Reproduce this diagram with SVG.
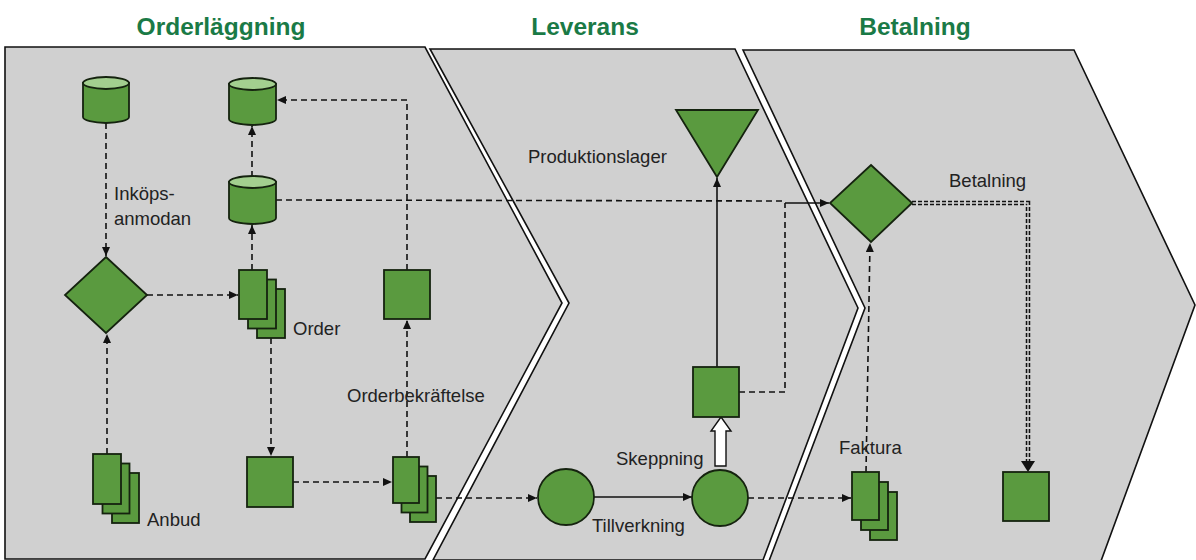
<svg xmlns="http://www.w3.org/2000/svg" width="1196" height="560" viewBox="0 0 1196 560">
<style>
.title{font-family:"Liberation Sans",Arial,sans-serif;font-weight:bold;font-size:24.5px;fill:#1a7a46;text-anchor:middle}
.lbl{font-family:"Liberation Sans",Arial,sans-serif;font-size:18.5px;fill:#222}
.panel{fill:#d0d0d0;stroke:#111;stroke-width:1.6;stroke-linejoin:miter}
.n{fill:#5a9a3f;stroke:#15230f;stroke-width:1.8}
.ctop{fill:#a3cf8f;stroke:#15230f;stroke-width:1.8}
.d{fill:none;stroke:#111;stroke-width:1.6;stroke-dasharray:6 4}
.s{fill:none;stroke:#111;stroke-width:1.6}
</style>
<defs>
<marker id="ah" markerUnits="userSpaceOnUse" markerWidth="10" markerHeight="8" refX="9" refY="4" orient="auto">
<path d="M0,0 L9,4 L0,8 Z" fill="#111"/>
</marker>
<marker id="ah2" markerUnits="userSpaceOnUse" markerWidth="14" markerHeight="12" refX="12" refY="6" orient="auto">
<path d="M0,0 L12,6 L0,12 Z" fill="#111"/>
</marker>
</defs>
<rect width="1196" height="560" fill="#fff"/>
<g id="titles">
<text class="title" x="221" y="35">Orderläggning</text>
<text class="title" x="585" y="35">Leverans</text>
<text class="title" x="915" y="35">Betalning</text>
</g>
<g id="panels">
<path class="panel" d="M5,47 L425,47 L562,303 L425,559 L5,559 Z"/>
<path class="panel" d="M430,49 L735,49 L858,308 L763,560 L433,560 L569,303 Z"/>
<path class="panel" d="M743,50 L1074,50 L1195,305 L1101,561 L769,561 L865,308 Z"/>
</g>
<g id="connectors">
<path class="d" d="M106,123 L106,256" marker-end="url(#ah)"/>
<path class="d" d="M107,454 L107,334" marker-end="url(#ah)"/>
<path class="d" d="M147,295 L238,295" marker-end="url(#ah)"/>
<path class="d" d="M252,270 L252,225" marker-end="url(#ah)"/>
<path class="d" d="M252,177 L252,126" marker-end="url(#ah)"/>
<path class="d" d="M271,338 L271,456" marker-end="url(#ah)"/>
<path class="d" d="M293,482 L392,482" marker-end="url(#ah)"/>
<path class="d" d="M407,457 L407,320" marker-end="url(#ah)"/>
<path class="d" d="M407,270 L407,100 L277,100" marker-end="url(#ah)"/>
<path class="d" d="M276,200 L785,201 L785,202"/>
<path class="d" d="M739,392 L785,392 L785,203"/>
<path class="s" d="M785,203 L829,203" marker-end="url(#ah)"/>
<path class="d" d="M436,498 L537,498" marker-end="url(#ah)"/>
<path class="s" d="M594,497 L692,497" marker-end="url(#ah)"/>
<path class="d" d="M748,498 L851,498" marker-end="url(#ah)"/>
<path class="d" d="M866,472 L870,243" marker-end="url(#ah)"/>
<path class="s" d="M717,367 L717,178" marker-end="url(#ah)"/>
<path fill="none" stroke="#111" stroke-width="4.5" stroke-dasharray="4 2" d="M912,203 L1028,203 L1028,462"/>
<path fill="none" stroke="#d0d0d0" stroke-width="1.4" d="M912,203 L1028,203 L1028,462"/>
<path d="M1021,461 L1035,461 L1028,472 Z" fill="#111"/>
<path d="M715,466 L715,431 L711,431 L721,417 L731,431 L726,431 L726,466 Z" fill="#fff" stroke="#111" stroke-width="1.4"/>
</g>
<g id="cyl1">
<path class="n" d="M83,83 L83,117 A23,6 0 0 0 129,117 L129,83 Z"/>
<ellipse class="ctop" cx="106" cy="83" rx="23" ry="6"/>
</g>
<g id="cyl2">
<path class="n" d="M229,84 L229,119 A23.5,6 0 0 0 276,119 L276,84 Z"/>
<ellipse class="ctop" cx="252.5" cy="84" rx="23.5" ry="6"/>
</g>
<g id="cyl3">
<path class="n" d="M229,182 L229,218 A23.5,6 0 0 0 276,218 L276,182 Z"/>
<ellipse class="ctop" cx="252.5" cy="182" rx="23.5" ry="6"/>
</g>
<g id="diamond1"><path class="n" d="M106,257 L147,295 L106,333 L65,295 Z"/></g>
<g id="order">
<rect class="n" x="257" y="289" width="28" height="49"/>
<rect class="n" x="248" y="279.5" width="28" height="49"/>
<rect class="n" x="239" y="270" width="28" height="49"/>
</g>
<g id="anbud">
<rect class="n" x="112" y="473" width="27" height="50"/>
<rect class="n" x="102.5" y="463.5" width="27" height="50"/>
<rect class="n" x="93" y="454" width="28" height="50"/>
</g>
<g id="sq1"><rect class="n" x="247" y="457" width="46" height="50"/></g>
<g id="obek">
<rect class="n" x="410" y="476" width="26" height="46"/>
<rect class="n" x="401.5" y="466.5" width="26" height="46"/>
<rect class="n" x="393" y="457" width="26" height="46"/>
</g>
<g id="sq2"><rect class="n" x="384" y="270" width="46" height="49"/></g>
<g id="circ1"><circle class="n" cx="566" cy="497" r="28"/></g>
<g id="circ2"><circle class="n" cx="720" cy="498" r="28"/></g>
<g id="sq3"><rect class="n" x="693" y="367" width="46" height="50"/></g>
<g id="tri"><path class="n" d="M676,110 L758,110 L717,177 Z"/></g>
<g id="diamond2"><path class="n" d="M871,165 L912,203 L871,242 L830,203 Z"/></g>
<g id="faktura">
<rect class="n" x="870" y="492" width="27" height="48"/>
<rect class="n" x="861" y="482" width="27" height="48"/>
<rect class="n" x="852" y="472" width="27" height="48"/>
</g>
<g id="sq4"><rect class="n" x="1003" y="472" width="46" height="49"/></g>
<g id="labels">
<text class="lbl" x="114" y="200">Inköps-</text>
<text class="lbl" x="114" y="225">anmodan</text>
<text class="lbl" x="293" y="335">Order</text>
<text class="lbl" x="347" y="402">Orderbekräftelse</text>
<text class="lbl" x="147" y="526">Anbud</text>
<text class="lbl" x="528" y="163">Produktionslager</text>
<text class="lbl" x="616" y="465">Skeppning</text>
<text class="lbl" x="592" y="532">Tillverkning</text>
<text class="lbl" x="839" y="454">Faktura</text>
<text class="lbl" x="949" y="187">Betalning</text>
</g>
</svg>
